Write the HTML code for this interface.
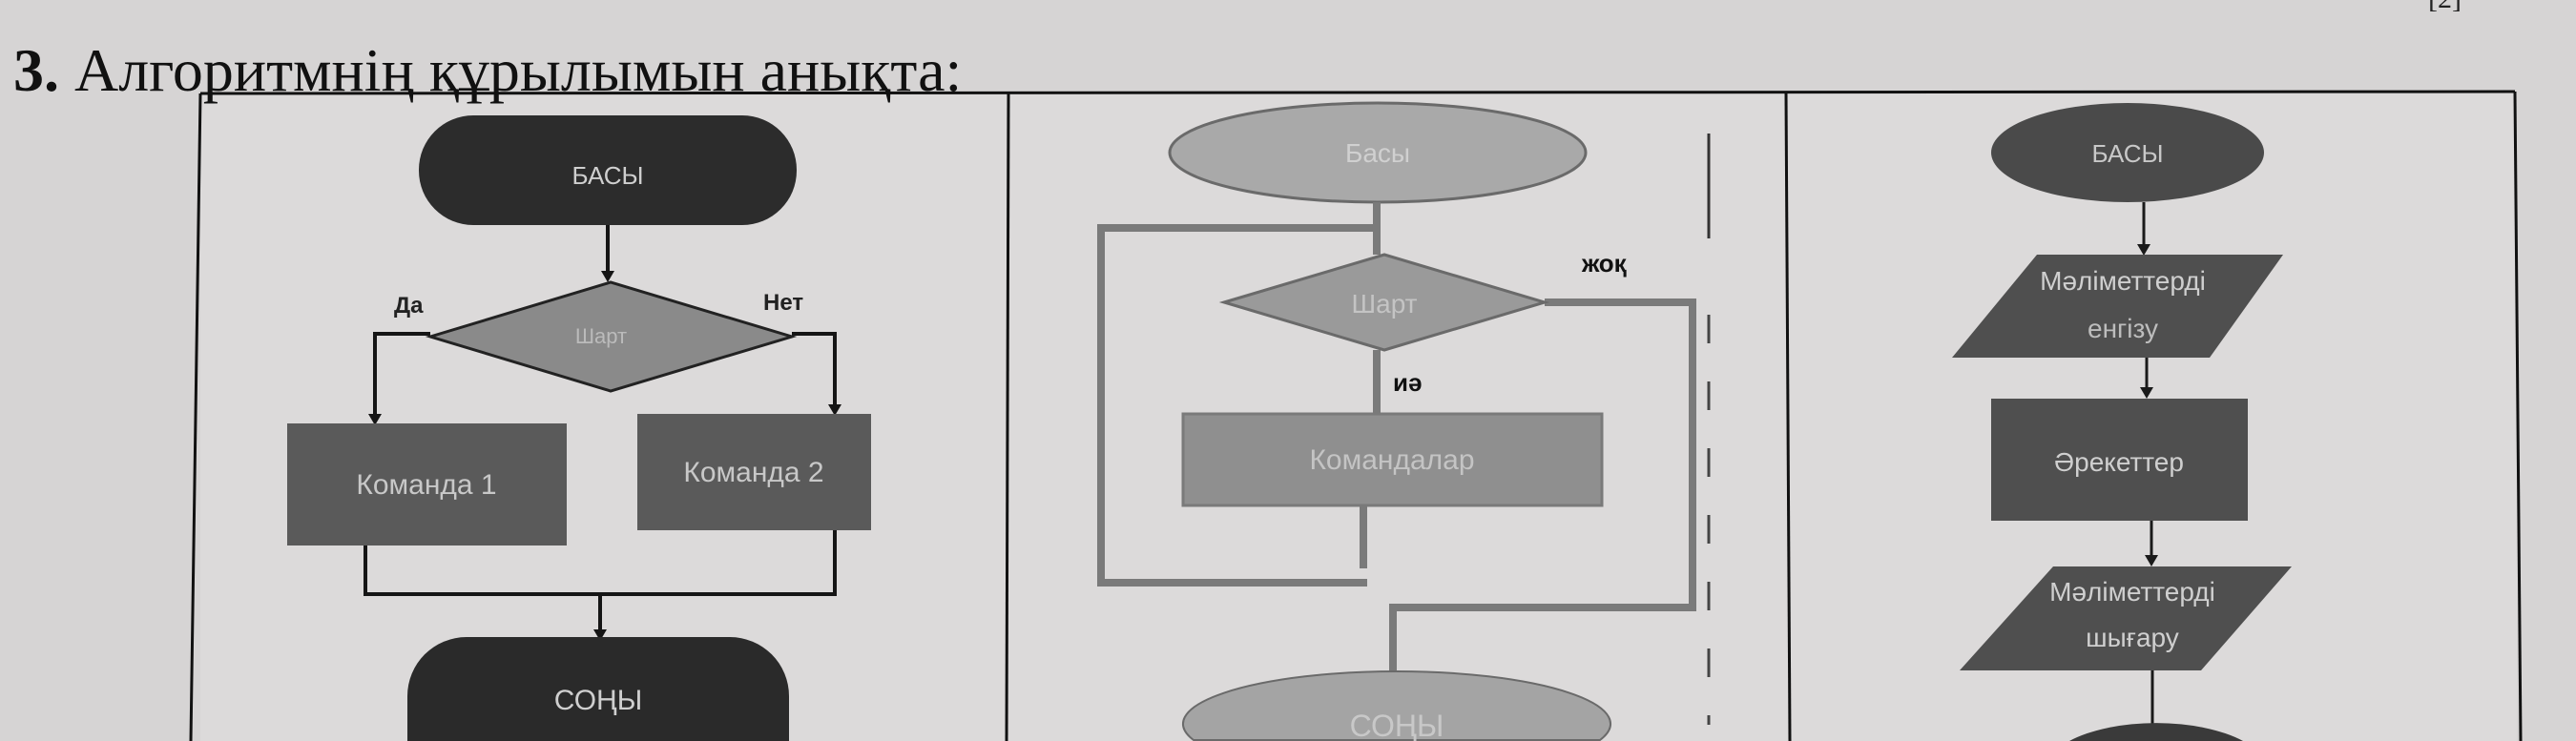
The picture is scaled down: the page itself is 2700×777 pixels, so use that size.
<!DOCTYPE html>
<html><head><meta charset="utf-8"><style>
html,body{margin:0;padding:0;background:#d6d4d4;width:2700px;height:777px;overflow:hidden;}
svg{display:block}
</style></head><body>
<svg width="2700" height="777" viewBox="0 0 2700 777" xmlns="http://www.w3.org/2000/svg" overflow="hidden">
<rect width="2700" height="777" fill="#d6d4d4"/>
<rect x="210" y="98" width="2428" height="679" fill="#dcdada"/>
<text x="14" y="95" font-family="Liberation Serif, serif" font-size="64" fill="#111"><tspan font-weight="bold">3.</tspan> Алгоритмнің құрылымын анықта:</text>
<text x="2545" y="8" font-family="Liberation Serif, serif" font-size="30" fill="#222">[2]</text>
<g stroke="#111" stroke-width="3" fill="none">
<line x1="210" y1="98" x2="2636" y2="96"/>
<line x1="210" y1="98" x2="200" y2="777"/>
<line x1="1057" y1="98" x2="1055" y2="777"/>
<line x1="1872" y1="97" x2="1876" y2="777"/>
<line x1="2636" y1="96" x2="2642" y2="777"/>
</g>

<g font-family="Liberation Sans, sans-serif">
<rect x="439" y="121" width="396" height="115" rx="57" fill="#2c2c2c"/>
<text x="637" y="193" font-size="26" fill="#cfcfcf" text-anchor="middle">БАСЫ</text>
<g stroke="#151515" stroke-width="4" fill="none">
<line x1="637" y1="236" x2="637" y2="286"/>
<polyline points="451,350 393,350 393,434"/>
<polyline points="830,350 875,350 875,424"/>
<polyline points="383,572 383,623 875,623 875,556"/>
<line x1="629" y1="623" x2="629" y2="662"/>
</g>
<g fill="#151515">
<polygon points="630,284 644,284 637,296"/>
<polygon points="386,434 400,434 393,446"/>
<polygon points="868,424 882,424 875,436"/>
<polygon points="622,660 636,660 629,672"/>
</g>
<polygon points="451,353 640,296 830,353 640,410" fill="#8a8a8a" stroke="#222" stroke-width="3"/>
<text x="630" y="360" font-size="22" fill="#bbb" text-anchor="middle">Шарт</text>
<text x="413" y="328" font-size="24" font-weight="bold" fill="#222">Да</text>
<text x="800" y="325" font-size="24" font-weight="bold" fill="#222">Нет</text>
<rect x="301" y="444" width="293" height="128" fill="#5a5a5a"/>
<text x="447" y="518" font-size="30" fill="#c8c8c8" text-anchor="middle">Команда 1</text>
<rect x="668" y="434" width="245" height="122" fill="#5a5a5a"/>
<text x="790" y="505" font-size="30" fill="#c8c8c8" text-anchor="middle">Команда 2</text>
<path d="M427,777 L427,730 A62,62 0 0 1 489,668 L765,668 A62,62 0 0 1 827,730 L827,777 Z" fill="#2a2a2a"/>
<text x="627" y="744" font-size="30" fill="#cfcfcf" text-anchor="middle">СОҢЫ</text>
</g>

<g font-family="Liberation Sans, sans-serif">
<ellipse cx="1444" cy="160" rx="218" ry="52" fill="#a9a9a9" stroke="#6a6a6a" stroke-width="3"/>
<text x="1444" y="170" font-size="28" fill="#d0d0d0" text-anchor="middle">Басы</text>
<g stroke="#7a7a7a" stroke-width="8" fill="none">
<line x1="1443" y1="212" x2="1443" y2="267"/>
<polyline points="1443,239 1154,239 1154,611 1433,611"/>
<polyline points="1619,317 1774,317 1774,637 1460,637 1460,706"/>
<line x1="1443" y1="367" x2="1443" y2="434"/>
<line x1="1429" y1="530" x2="1429" y2="596"/>
</g>
<line x1="1791" y1="140" x2="1791" y2="250" stroke="#333" stroke-width="3"/>
<line x1="1791" y1="330" x2="1791" y2="760" stroke="#444" stroke-width="3" stroke-dasharray="30,40"/>
<polygon points="1283,317 1451,267 1619,317 1451,367" fill="#9a9a9a" stroke="#6a6a6a" stroke-width="3"/>
<text x="1451" y="328" font-size="28" fill="#c4c4c4" text-anchor="middle">Шарт</text>
<text x="1658" y="285" font-size="26" font-weight="bold" fill="#111">жоқ</text>
<text x="1460" y="410" font-size="26" font-weight="bold" fill="#111">иә</text>
<rect x="1240" y="434" width="439" height="96" fill="#8f8f8f" stroke="#7a7a7a" stroke-width="3"/>
<text x="1459" y="492" font-size="30" fill="#c4c4c4" text-anchor="middle">Командалар</text>
<path d="M1251,776 A224,55 0 1 1 1677,776 Z" fill="#a4a4a4" stroke="#6a6a6a" stroke-width="2"/>
<text x="1464" y="772" font-size="32" fill="#c8c8c8" text-anchor="middle">СОҢЫ</text>
</g>

<g font-family="Liberation Sans, sans-serif">
<ellipse cx="2230" cy="160" rx="143" ry="52" fill="#4a4a4a"/>
<text x="2230" y="170" font-size="26" fill="#c8c8c8" text-anchor="middle">БАСЫ</text>
<g stroke="#1a1a1a" stroke-width="3">
<line x1="2247" y1="212" x2="2247" y2="258"/>
<line x1="2250" y1="375" x2="2250" y2="408"/>
<line x1="2255" y1="546" x2="2255" y2="584"/>
<line x1="2256" y1="703" x2="2256" y2="777"/>
</g>
<g fill="#1a1a1a">
<polygon points="2240,256 2254,256 2247,268"/>
<polygon points="2243,406 2257,406 2250,418"/>
<polygon points="2248,582 2262,582 2255,594"/>
</g>
<polygon points="2135,267 2393,267 2316,375 2046,375" fill="#4f4f4f"/>
<text x="2225" y="304" font-size="28" fill="#cfcfcf" text-anchor="middle">Мәліметтерді</text>
<text x="2225" y="354" font-size="28" fill="#bdbdbd" text-anchor="middle">енгізу</text>
<rect x="2087" y="418" width="269" height="128" fill="#4f4f4f"/>
<text x="2221" y="494" font-size="28" fill="#cfcfcf" text-anchor="middle">Әрекеттер</text>
<polygon points="2152,594 2402,594 2307,703 2054,703" fill="#4f4f4f"/>
<text x="2235" y="630" font-size="28" fill="#cfcfcf" text-anchor="middle">Мәліметтерді</text>
<text x="2235" y="678" font-size="28" fill="#cfcfcf" text-anchor="middle">шығару</text>
<path d="M2169,777 A118,52 0 0 1 2351,777 Z" fill="#3a3a3a"/>
</g>
</svg>
</body></html>
